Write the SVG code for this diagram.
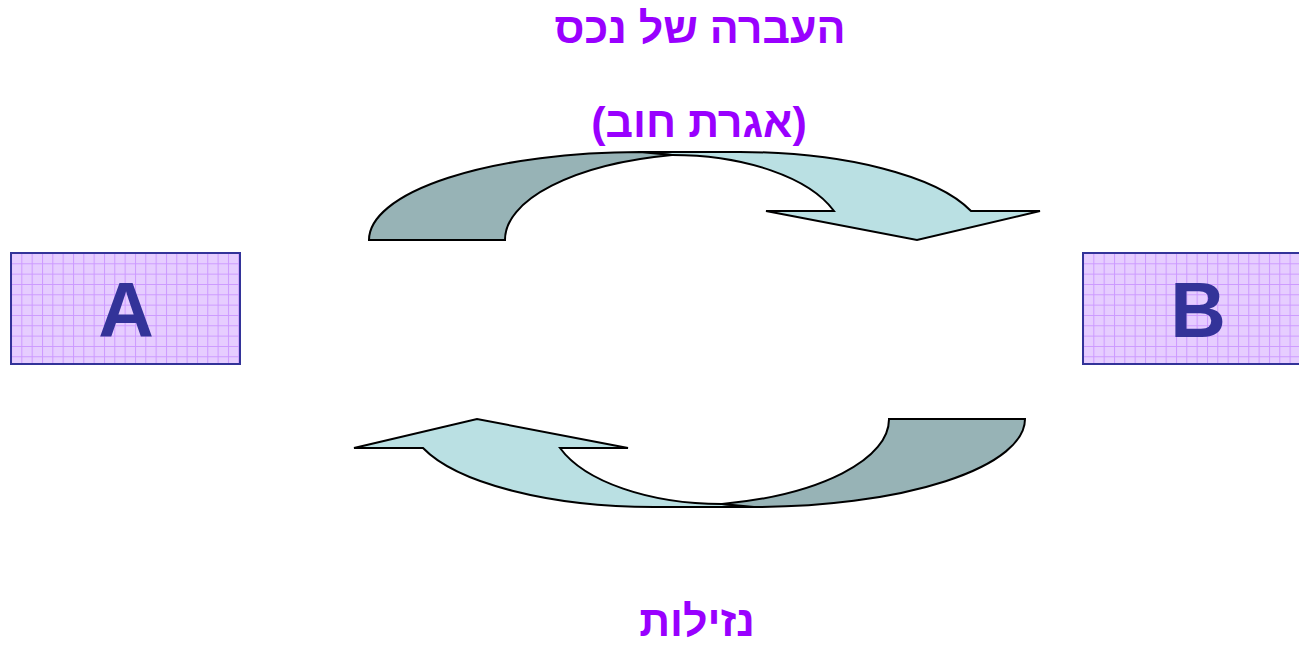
<svg xmlns="http://www.w3.org/2000/svg" width="1299" height="646" viewBox="0 0 1299 646">
  <style>
    .lbl { font-family: "Liberation Sans", "DejaVu Sans", Arial, sans-serif; font-weight: bold; fill: #9900FF; font-size: 43px; text-anchor: middle; }
    .letter { font-family: "Liberation Sans", Arial, sans-serif; font-weight: bold; fill: #333399; font-size: 77px; text-anchor: middle; }
    .box { fill: url(#grid); stroke: #333399; stroke-width: 2; }
    .dark { fill: #97B3B6; stroke: #000; stroke-width: 2; stroke-linejoin: miter; }
    .light { fill: #BAE0E3; stroke: #000; stroke-width: 2; stroke-linejoin: miter; }
  </style>
  <defs>
    <pattern id="grid" patternUnits="userSpaceOnUse" x="0" y="0" width="10.33" height="10.33">
      <rect width="10.33" height="10.33" fill="#E6CDFF"/>
      <path d="M0,0.5 H10.33 M0.5,0 V10.33" stroke="#CC99FF" stroke-width="1" fill="none"/>
    </pattern>
    <g id="curved">
      <path class="light" d="M834,211 A172,85 0 0 0 672,155 L640,152 L740,152 A244.7,88 0 0 1 971,211 L1040,211 L917,240 L766,211 Z"/>
      <path class="dark" d="M369,240 A271,88 0 0 1 640,152 L672,155 A215,87 0 0 0 505,240 Z"/>
    </g>
  </defs>
  <rect width="1299" height="646" fill="#FFFFFF"/>

  <g id="node-A" transform="translate(11,253)">
    <rect class="box" x="0" y="0" width="229" height="111"/>
    <text class="letter" x="115" y="84">A</text>
  </g>

  <g id="node-B" transform="translate(1083,253)">
    <rect class="box" x="0" y="0" width="229" height="111"/>
    <text class="letter" x="115" y="84">B</text>
  </g>

  <g id="connectors">
    <use id="arrow-top" href="#curved"/>
    <use id="arrow-bottom" href="#curved" transform="rotate(180 697 329.5)"/>
  </g>

  <g id="labels">
    <text class="lbl" x="700" y="43" direction="rtl">העברה של נכס</text>
    <text class="lbl" x="699" y="137" direction="rtl">(אגרת חוב)</text>
    <text class="lbl" x="697" y="636" direction="rtl">נזילות</text>
  </g>
</svg>
